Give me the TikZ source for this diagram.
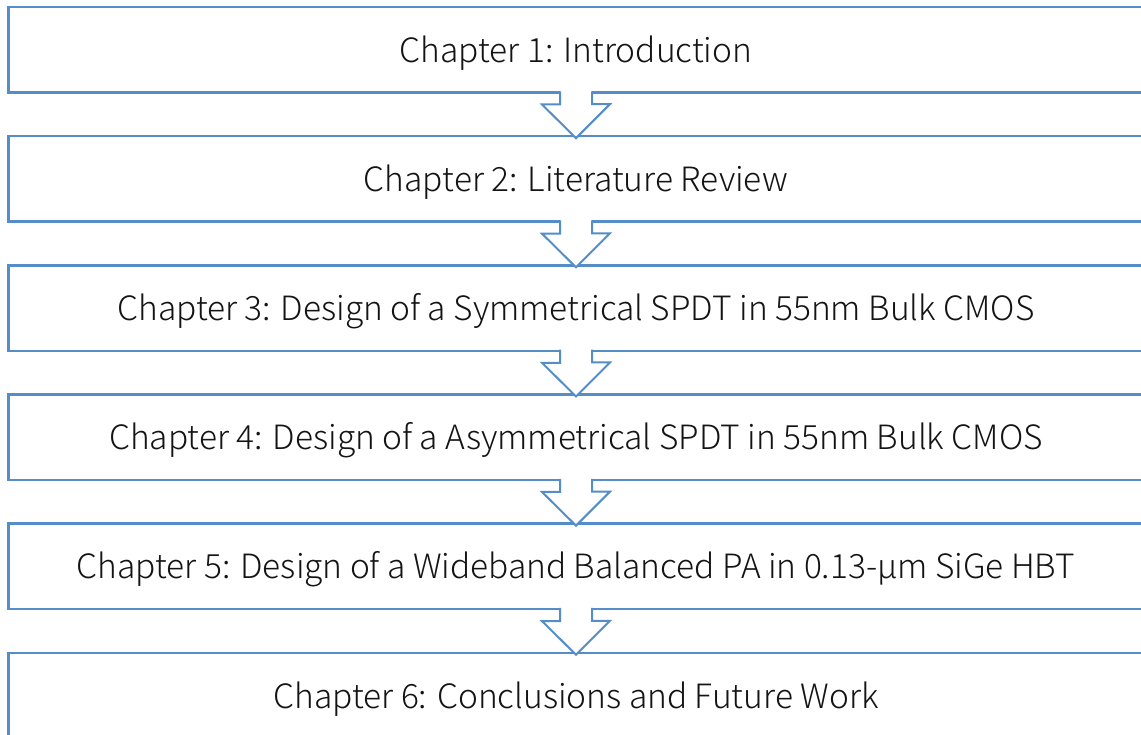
\documentclass[tikz,border=0pt]{standalone}
\usepackage{fontspec}
\setmainfont{Noto Sans CJK SC}[UprightFont={* Light}]
\definecolor{boxblue}{RGB}{84,141,199}
\definecolor{textgray}{RGB}{20,20,20}
\begin{document}
\begin{tikzpicture}[x=1bp,y=-1bp,
  chapbox/.style={draw=boxblue, line width=2.4bp, minimum width=1135bp,
    minimum height=85.5bp, inner sep=0pt, outer sep=0pt,
    text height=25bp, text depth=0bp,
    font=\fontsize{33.6}{38}\selectfont, text=textgray},
  flowline/.style={draw=boxblue, line width=2bp, line join=miter}]
\useasboundingbox (0,0) rectangle (1141,735);

% chapter boxes, stacked at a fixed pitch
\node[chapbox] (c1) at (576,49.75)  {Chapter 1: Introduction};
\node[chapbox] (c2) at (576,178.9)  {Chapter 2: Literature Review};
\node[chapbox] (c3) at (576,308.05) {Chapter 3: Design of a Symmetrical SPDT in 55nm Bulk CMOS};
\node[chapbox] (c4) at (576,437.2)  {Chapter 4: Design of a Asymmetrical SPDT in 55nm Bulk CMOS};
\node[chapbox] (c5) at (576,566.35) {Chapter 5: Design of a Wideband Balanced PA in 0.13-µm SiGe HBT};
\node[chapbox] (c6) at (576,695.5)  {Chapter 6: Conclusions and Future Work};

% hollow block arrows linking consecutive chapters
\foreach \a/\b in {c1/c2,c2/c3,c3/c4,c4/c5,c5/c6}{
  \path[fill=white] ([xshift=-16bp,yshift=1.6bp]\a.south) -- ++(0,13.6) -- ++(-18,0)
    -- ([yshift=-2bp]\b.north) -- ++(34,-34) -- ++(-18,0)
    -- ([xshift=16bp,yshift=1.6bp]\a.south) -- cycle;
  \draw[flowline] ([xshift=-16bp,yshift=1.2bp]\a.south) -- ++(0,13.2) -- ++(-18,0)
    -- ([yshift=-2bp]\b.north) -- ++(34,-34) -- ++(-18,0)
    -- ([xshift=16bp,yshift=1.2bp]\a.south);
}
\end{tikzpicture}
\end{document}
